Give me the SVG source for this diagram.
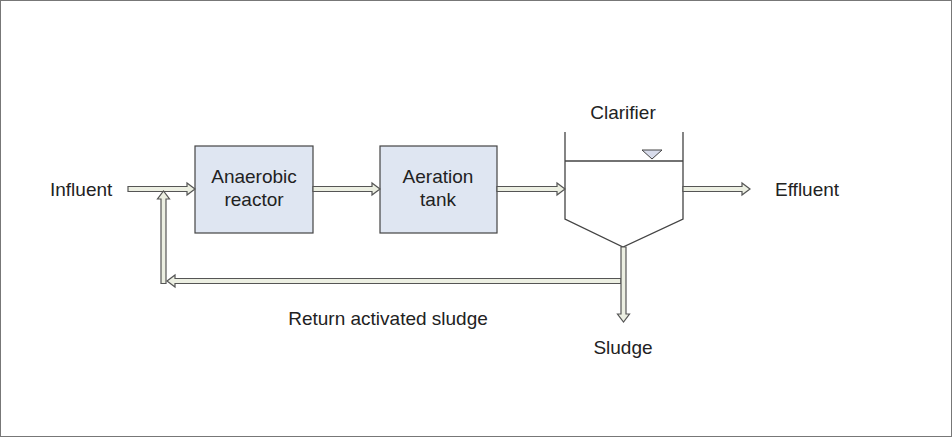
<svg xmlns="http://www.w3.org/2000/svg" width="952" height="437" viewBox="0 0 952 437">
<style>
text{font-family:"Liberation Sans",Arial,sans-serif;font-size:19px;fill:#222}
.box{fill:#dfe6f2;stroke:#444;stroke-width:1.2}
.arr{fill:#ecefe2;stroke:#555;stroke-width:1.2}
.ln{fill:none;stroke:#444;stroke-width:1.3}
</style>
<rect x="0.5" y="0.5" width="951" height="436" fill="#fff" stroke="#777"/>
<g id="anaerobic"><rect class="box" x="195" y="146" width="118" height="87"/><text x="254" y="183" text-anchor="middle">Anaerobic</text><text x="254" y="206" text-anchor="middle">reactor</text></g>
<g id="aeration"><rect class="box" x="380" y="146" width="117" height="87"/><text x="438" y="183" text-anchor="middle">Aeration</text><text x="438" y="206" text-anchor="middle">tank</text></g>
<g id="clarifier"><path class="ln" d="M565,132 V219 L623,247 L683,219 V132 M565,161 H683"/><polygon points="642,150 662,150 652,159" fill="#d8dcec" stroke="#444"/><text x="623" y="119" text-anchor="middle">Clarifier</text></g>
<g id="labels"><text x="50" y="196">Influent</text><text x="775" y="196">Effluent</text><text x="388" y="325" text-anchor="middle">Return activated sludge</text><text x="623" y="354" text-anchor="middle">Sludge</text></g>
<g id="connectors">
<polygon class="arr" points="128,186.5 187,186.5 187,183 195,189 187,195 187,191.5 128,191.5"/>
<polygon class="arr" points="313,186.5 372,186.5 372,183 380,189 372,195 372,191.5 313,191.5"/>
<polygon class="arr" points="497,186.5 557,186.5 557,183 565,189 557,195 557,191.5 497,191.5"/>
<polygon class="arr" points="683,186.5 742,186.5 742,183 750,189 742,195 742,191.5 683,191.5"/>
<polygon class="arr" points="161,283.5 161,199 157.5,199 163.5,191 169.5,199 166,199 166,283.5"/>
<polygon class="arr" points="621,278.5 175,278.5 175,275 167,281 175,287 175,283.5 621,283.5"/>
<polygon class="arr" points="621,247 621,314 617.5,314 623.5,322 629.5,314 626,314 626,247"/>
</g>
</svg>
